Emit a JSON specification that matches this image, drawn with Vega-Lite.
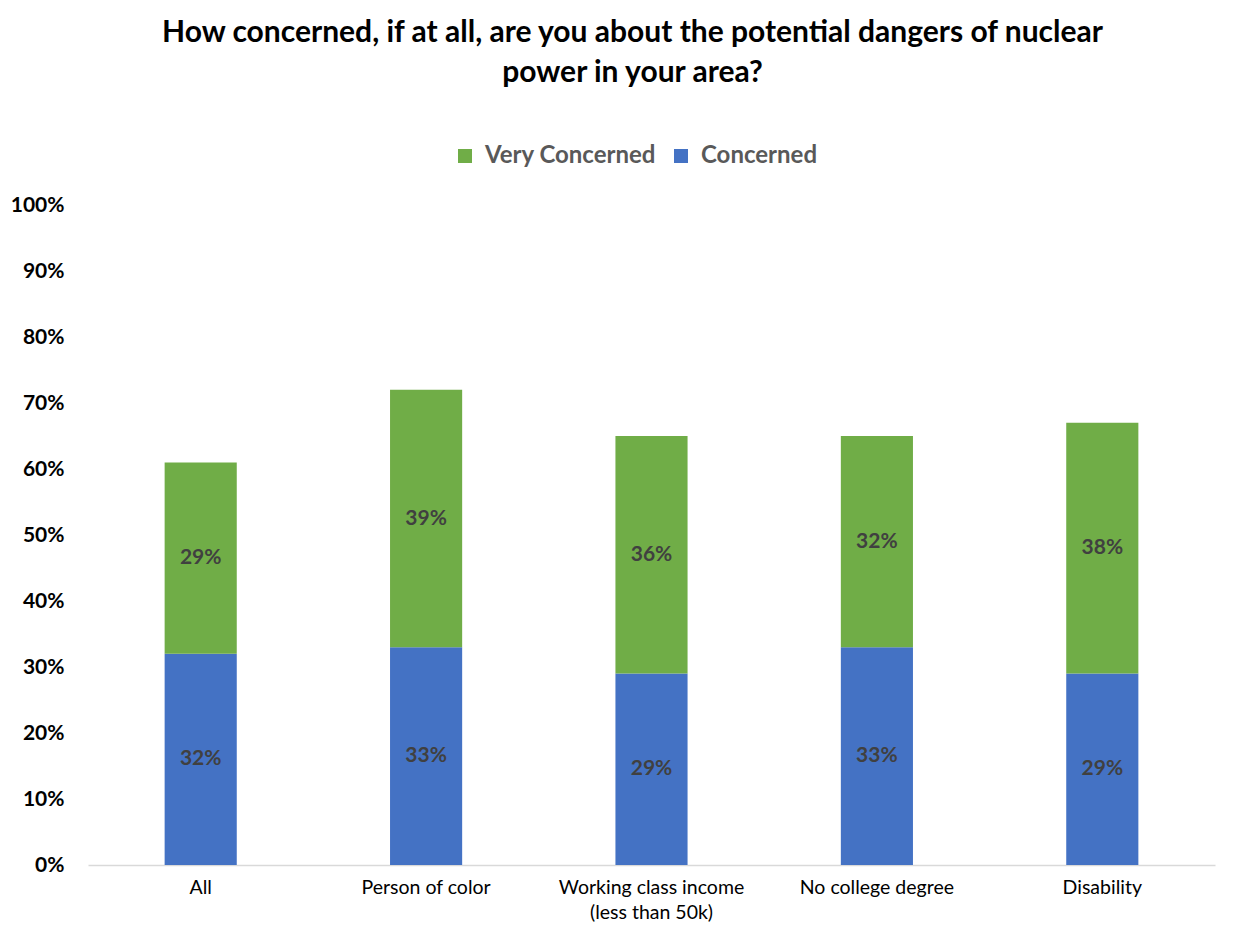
{
  "$schema": "https://vega.github.io/schema/vega-lite/v6.json",
  "autosize": {"type": "none"},
  "width": 1127,
  "height": 660,
  "padding": {"left": 88, "top": 205, "right": 38, "bottom": 84},
  "background": "white",
  "config": {
    "font": "Lato",
    "view": {"stroke": null}
  },
  "title": {
    "text": ["How concerned, if at all, are you about the potential dangers of nuclear", "power in your area?"],
    "fontSize": 30,
    "fontWeight": "bold",
    "color": "#000000",
    "anchor": "middle",
    "frame": "group",
    "dx": -19,
    "offset": 56,
    "lineHeight": 40,
    "limit": 0
  },
  "data": {
    "values": [
      {"group": "All", "series": "Concerned", "value": 0.32},
      {"group": "All", "series": "Very Concerned", "value": 0.29},
      {"group": "Person of color", "series": "Concerned", "value": 0.33},
      {"group": "Person of color", "series": "Very Concerned", "value": 0.39},
      {"group": "Working class income\n(less than 50k)", "series": "Concerned", "value": 0.29},
      {"group": "Working class income\n(less than 50k)", "series": "Very Concerned", "value": 0.36},
      {"group": "No college degree", "series": "Concerned", "value": 0.33},
      {"group": "No college degree", "series": "Very Concerned", "value": 0.32},
      {"group": "Disability", "series": "Concerned", "value": 0.29},
      {"group": "Disability", "series": "Very Concerned", "value": 0.38}
    ]
  },
  "transform": [
    {"calculate": "datum.series == 'Concerned' ? 0 : 1", "as": "ord"},
    {"stack": "value", "groupby": ["group"], "sort": [{"field": "ord", "order": "ascending"}], "as": ["v0", "v1"]},
    {"calculate": "(datum.v0 + datum.v1) / 2", "as": "vmid"}
  ],
  "encoding": {
    "x": {
      "field": "group",
      "type": "nominal",
      "sort": null,
      "title": null,
      "scale": {"paddingInner": 0.68, "paddingOuter": 0.34},
      "axis": {
        "labelAngle": 0,
        "labelFontSize": 19.5,
        "labelColor": "#000000",
        "labelPadding": 13,
        "labelLineHeight": 25,
        "labelLimit": 0,
        "labelExpr": "split(datum.value, '\\n')",
        "ticks": false,
        "domainColor": "#d9d9d9",
        "domainWidth": 1.5,
        "grid": false
      }
    }
  },
  "layer": [
    {
      "mark": {"type": "bar"},
      "encoding": {
        "y": {
          "field": "v1",
          "type": "quantitative",
          "scale": {"domain": [0, 1]},
          "title": null,
          "axis": {
            "values": [0, 0.1, 0.2, 0.3, 0.4, 0.5, 0.6, 0.7, 0.8, 0.9, 1],
            "format": ".0%",
            "labelFontSize": 21,
            "labelFontWeight": "bold",
            "labelColor": "#000000",
            "labelPadding": 24,
            "domain": false,
            "ticks": false,
            "grid": false
          }
        },
        "y2": {"field": "v0"},
        "color": {
          "field": "series",
          "type": "nominal",
          "scale": {"domain": ["Very Concerned", "Concerned"], "range": ["#70AD47", "#4472C4"]},
          "legend": {
            "title": null,
            "orient": "none",
            "direction": "horizontal",
            "legendX": 365,
            "legendY": -61,
            "symbolType": "square",
            "symbolSize": 196,
            "symbolStrokeWidth": 0,
            "labelFontSize": 24,
            "labelFontWeight": "bold",
            "labelColor": "#595959",
            "labelOffset": 8,
            "labelLimit": 0,
            "columnPadding": 12
          }
        }
      }
    },
    {
      "mark": {"type": "text", "fontSize": 21, "fontWeight": "bold", "color": "#404040", "baseline": "middle"},
      "encoding": {
        "y": {"field": "vmid", "type": "quantitative"},
        "text": {"field": "value", "type": "quantitative", "format": ".0%"}
      }
    }
  ]
}
